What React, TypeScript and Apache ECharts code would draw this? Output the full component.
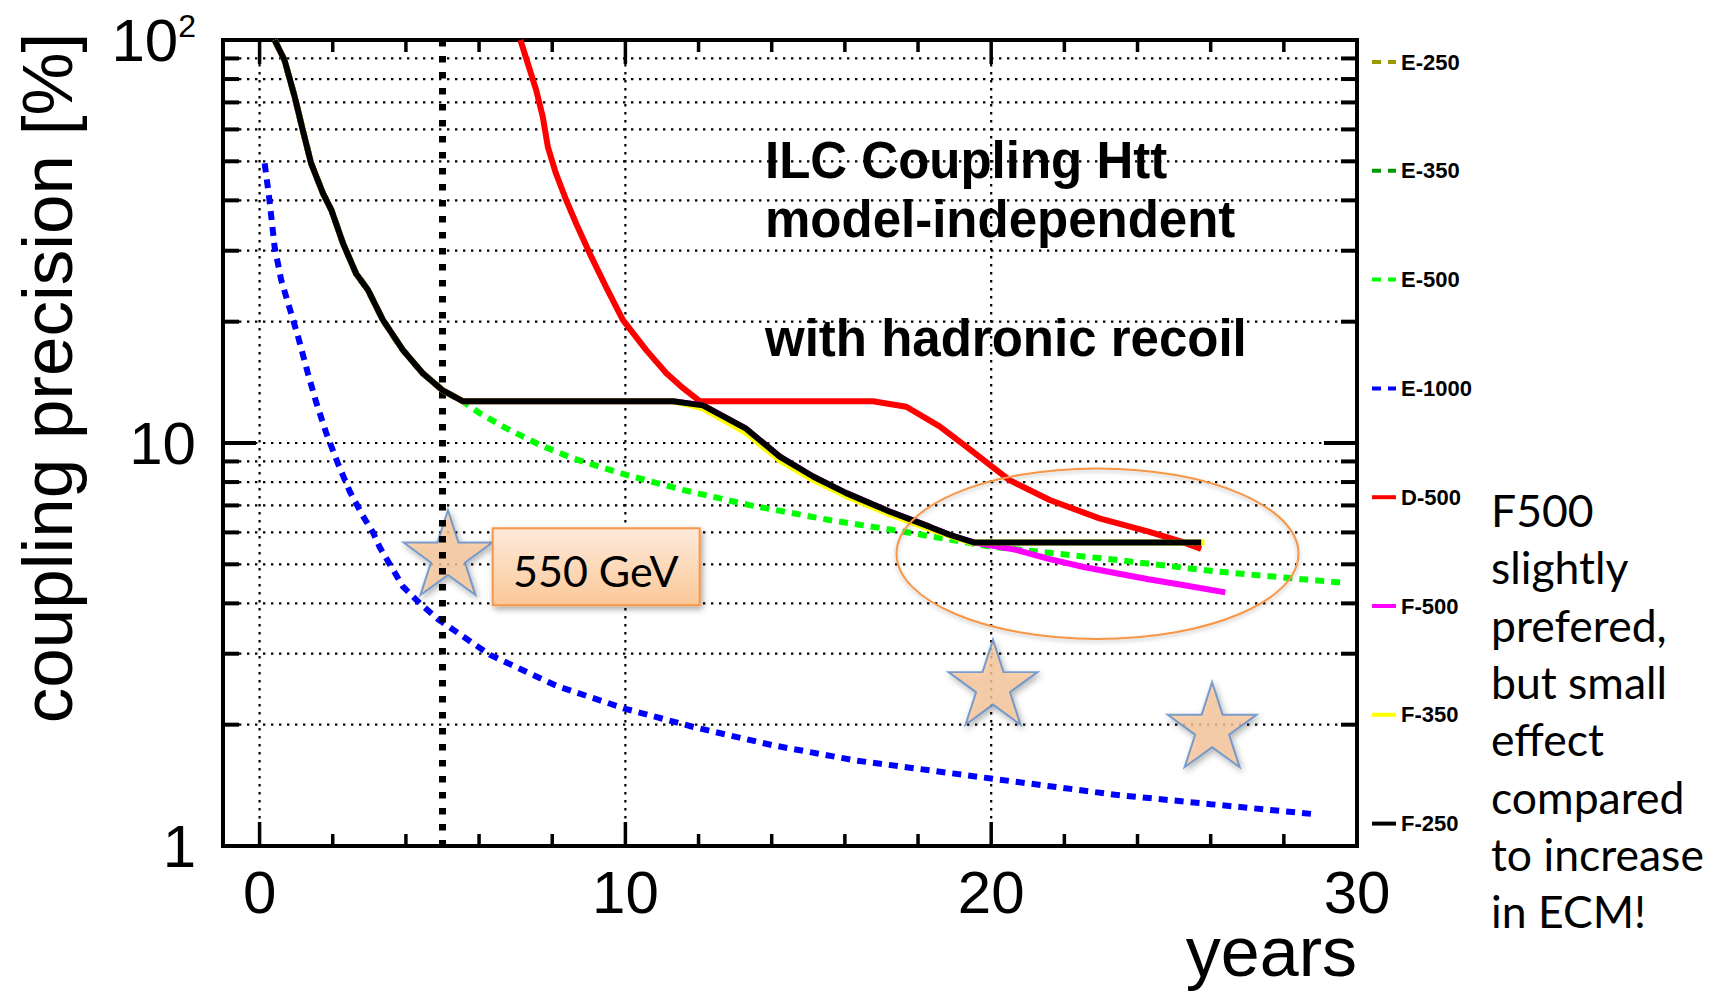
import React, { useEffect, useRef } from 'react';
import * as echarts from 'echarts';

// ---------- data (years, coupling precision %) ----------
const INITIAL_DESCENT: [number, number][] = [
  [0.41, 100], [0.68, 89.2], [0.96, 72.3], [1.18, 59.8], [1.41, 49.4], [1.73, 41.7],
  [1.96, 37.9], [2.28, 31.3], [2.64, 26.3], [2.96, 24.0], [3.37, 20.2], [3.92, 17.0],
  [4.46, 14.9], [5.01, 13.5], [5.55, 12.7],
];
const E500_TAIL: [number, number][] = [
  [6.02, 11.85], [6.75, 10.87], [7.66, 9.89], [8.57, 9.16], [10.03, 8.33], [11.57, 7.65],
  [13.4, 7.01], [15.58, 6.44], [17.58, 6.03], [20.0, 5.53], [23.4, 5.13], [26.15, 4.8], [29.6, 4.5],
];
const E1000: [number, number][] = [
  [0.14, 49.4], [0.27, 40.1], [0.41, 30.7], [0.59, 25.4], [0.82, 21.6], [1.05, 18.4],
  [1.32, 14.9], [1.55, 12.6], [1.82, 10.6], [2.14, 8.9], [2.46, 7.6], [2.82, 6.6],
  [3.1, 6.0], [3.29, 5.5], [3.92, 4.4], [4.38, 4.0], [4.9, 3.64], [6.3, 2.98],
  [8.15, 2.49], [10.0, 2.19], [11.9, 1.97], [14.0, 1.78], [16.3, 1.63], [20.0, 1.47],
  [23.4, 1.34], [26.0, 1.27], [28.8, 1.2],
];
const D500: [number, number][] = [
  [7.13, 100], [7.56, 75.2], [7.74, 64.6], [7.88, 54.3], [8.1, 46.7], [8.38, 40.1],
  [8.65, 35.1], [9.02, 29.6], [9.47, 24.4], [9.93, 20.2], [10.57, 17.0], [11.12, 14.9],
  [11.57, 13.7], [12.03, 12.7], [16.77, 12.7], [17.68, 12.3], [18.59, 11.0], [19.32, 9.79],
  [20.5, 8.09], [21.6, 7.22], [22.96, 6.5], [24.3, 6.03], [25.2, 5.69], [25.74, 5.46],
];
const F_FLAT: [number, number][] = [[11.3, 12.7]];
const F250_TAIL: [number, number][] = [
  [12.12, 12.4], [13.3, 10.85], [14.22, 9.25], [15.13, 8.26], [16.04, 7.51], [17.22, 6.76],
  [18.31, 6.2], [18.86, 5.92], [19.54, 5.66], [25.74, 5.66],
];
const F350_TAIL: [number, number][] = [
  [12.1, 12.2], [13.3, 10.6], [14.22, 9.05], [15.13, 8.1], [16.04, 7.38], [17.22, 6.66],
  [18.31, 6.12], [19.45, 5.66], [25.83, 5.66],
];
const F500_TAIL: [number, number][] = [
  [12.12, 12.4], [13.3, 10.85], [14.22, 9.25], [15.13, 8.26], [16.04, 7.51], [17.22, 6.76],
  [18.31, 6.2], [18.86, 5.92], [19.54, 5.66], [20.68, 5.43], [21.6, 5.15], [22.5, 4.93],
  [23.42, 4.75], [24.3, 4.59], [25.2, 4.45], [26.4, 4.26],
];
const STAR_POINTS: [number, number][] = [[5.15, 5.35], [20.05, 2.55], [26.04, 2.0]];
const ECM_SWITCH: [number, number][] = [[5, 100], [5, 1]];

const LEGEND_NAMES = ['E-250', 'E-350', 'E-500', 'E-1000', 'D-500', 'F-500', 'F-350', 'F-250'];

// axis ticks
const X_MIN = -1;
const X_MAX = 30;
const Y_MIN = 1;
const Y_MAX = 100;
const X_LABELS = [0, 10, 20, 30];
const X_TICKS = [0, 2, 4, 6, 8, 10, 12, 14, 16, 18, 20, 22, 24, 26, 28];
const X_MAJOR = [0, 10, 20];
const Y_TICKS = [2, 3, 4, 5, 6, 7, 8, 9, 10, 20, 30, 40, 50, 60, 70, 80, 90];
const Y_MAJOR = [10];

const TITLE_LINES = ['ILC Coupling Htt', 'model-independent', '', 'with hadronic recoil'];
const NOTE_LINES = ['F500', 'slightly', 'prefered,', 'but small', 'effect', 'compared', 'to increase', 'in ECM!'];

const SANS = '"Liberation Sans", Arial, Helvetica, sans-serif';
const CALIBRI_LIKE = 'Lato, "Open Sans", sans-serif';

function starPath(): string {
  const pts: string[] = [];
  for (let i = 0; i < 10; i++) {
    const r = i % 2 === 0 ? 100 : 38.2;
    const a = -Math.PI / 2 + (i * Math.PI) / 5;
    pts.push(`${(r * Math.cos(a)).toFixed(2)},${(r * Math.sin(a)).toFixed(2)}`);
  }
  return 'path://M' + pts.join('L') + 'Z';
}

export default function App() {
  const ref = useRef<HTMLDivElement>(null);
  useEffect(() => {
    if (!ref.current) return;
    const chart = echarts.init(ref.current, null, { renderer: 'svg' });

    const dotted = (name: string, data: [number, number][], color: string) => ({
      type: 'line', name, data, symbol: 'none', showSymbol: false, z: 3, silent: true,
      lineStyle: { color, width: 6, type: [9, 7] }, itemStyle: { color },
    });
    const solid = (name: string, data: [number, number][], color: string, z: number) => ({
      type: 'line', name, data, symbol: 'none', showSymbol: false, z, silent: true,
      lineStyle: { color, width: 6 }, itemStyle: { color },
    });

    const gridDot = { stroke: '#000', lineWidth: 2.2, lineDash: [2.4, 5.6] };

    const yGrid = {
      type: 'custom', name: 'ygrid', silent: true, z: 1,
      data: Y_TICKS.map((v) => [X_MIN, v]),
      renderItem: (params: any, api: any) => {
        const v = api.value(1);
        const p = api.coord([X_MIN, v]);
        const cs = params.coordSys;
        const left = cs.x;
        const right = cs.x + cs.width;
        const len = Y_MAJOR.indexOf(v) >= 0 ? 33 : 16;
        return {
          type: 'group',
          children: [
            { type: 'line', shape: { x1: left, y1: p[1], x2: right, y2: p[1] }, style: gridDot },
            { type: 'line', shape: { x1: left, y1: p[1], x2: left + len, y2: p[1] }, style: { stroke: '#000', lineWidth: 4 } },
            { type: 'line', shape: { x1: right - len, y1: p[1], x2: right, y2: p[1] }, style: { stroke: '#000', lineWidth: 4 } },
          ],
        };
      },
    };
    const xGrid = {
      type: 'custom', name: 'xgrid', silent: true, z: 1,
      data: X_TICKS.map((v) => [v, Y_MIN]),
      renderItem: (params: any, api: any) => {
        const v = api.value(0);
        const p = api.coord([v, Y_MIN]);
        const cs = params.coordSys;
        const top = cs.y;
        const bottom = cs.y + cs.height;
        const major = X_MAJOR.indexOf(v) >= 0;
        const len = major ? 24 : 12;
        const children: any[] = [
          { type: 'line', shape: { x1: p[0], y1: bottom, x2: p[0], y2: bottom - len }, style: { stroke: '#000', lineWidth: 3.5 } },
          { type: 'line', shape: { x1: p[0], y1: top, x2: p[0], y2: top + len }, style: { stroke: '#000', lineWidth: 3.5 } },
        ];
        if (major) {
          children.unshift({ type: 'line', shape: { x1: p[0], y1: top, x2: p[0], y2: bottom }, style: gridDot });
        }
        return { type: 'group', children };
      },
    };

    const option: any = {
      animation: false,
      backgroundColor: '#fff',
      grid: { left: 223, top: 40, width: 1134, height: 806, show: true, borderColor: '#000', borderWidth: 4, backgroundColor: 'transparent' },
      xAxis: {
        type: 'value', min: X_MIN, max: X_MAX,
        axisLine: { show: false }, axisTick: { show: false }, splitLine: { show: false },
        axisLabel: { customValues: X_LABELS, fontSize: 60, fontFamily: SANS, color: '#000', margin: 16 },
      },
      yAxis: {
        type: 'log', logBase: 10, min: Y_MIN, max: Y_MAX,
        axisLine: { show: false }, axisTick: { show: false }, splitLine: { show: false }, minorTick: { show: false },
        axisLabel: {
          margin: 27, color: '#000',
          formatter: (v: number) => {
            const r = Math.round(v);
            return r === 100 ? '{b|10}{s|2}' : `{b|${r}}`;
          },
          rich: {
            b: { fontSize: 60, fontFamily: SANS, color: '#000' },
            s: { fontSize: 32, fontFamily: SANS, color: '#000', verticalAlign: 'top', lineHeight: 26 },
          },
        },
      },
      legend: {
        data: LEGEND_NAMES, orient: 'vertical', left: 1370, top: 51, padding: 0,
        itemWidth: 24, itemHeight: 10, itemGap: 86.8, selectedMode: false,
        itemStyle: { opacity: 0 }, lineStyle: { width: 4 },
        textStyle: { fontFamily: SANS, fontWeight: 'bold', fontSize: 22, color: '#000', lineHeight: 22 },
      },
      series: [
        yGrid,
        xGrid,
        dotted('E-250', INITIAL_DESCENT, '#999900'),
        dotted('E-350', INITIAL_DESCENT, '#009900'),
        dotted('E-500', [...INITIAL_DESCENT, ...E500_TAIL], '#00ff00'),
        dotted('E-1000', E1000, '#0000ff'),
        {
          type: 'scatter', name: 'stars', data: STAR_POINTS, symbol: starPath(), symbolSize: [89, 85], z: 4, silent: true,
          itemStyle: { color: '#f9c89c', borderColor: '#5b8bc9', borderWidth: 2, shadowBlur: 6, shadowColor: 'rgba(0,0,0,0.35)', shadowOffsetX: 2, shadowOffsetY: 3 },
        },
        {
          type: 'line', name: 'ecm', data: ECM_SWITCH, symbol: 'none', z: 5, silent: true,
          lineStyle: { color: '#000', width: 7, type: [6.5, 9.5] },
        },
        solid('D-500', D500, '#ff0000', 6),
        solid('F-500', [...INITIAL_DESCENT, ...F_FLAT, ...F500_TAIL], '#ff00ff', 7),
        solid('F-350', [...INITIAL_DESCENT, ...F_FLAT, ...F350_TAIL], '#ffff00', 8),
        solid('F-250', [...INITIAL_DESCENT, ...F_FLAT, ...F250_TAIL], '#000000', 9),
      ],
      graphic: [
        {
          type: 'text', x: 47, y: 378, rotation: Math.PI / 2, z: 10,
          style: { text: 'coupling precision [%]', fontSize: 71, fontFamily: SANS, fill: '#000', align: 'center', verticalAlign: 'middle', textAlign: 'center', textVerticalAlign: 'middle' },
        },
        {
          type: 'text', x: 1357, y: 952, z: 10,
          style: { text: 'years', fontSize: 70, fontFamily: SANS, fill: '#000', align: 'right', verticalAlign: 'middle', textAlign: 'right', textVerticalAlign: 'middle' },
        },
        {
          type: 'text', x: 765, y: 131, z: 10,
          style: { text: TITLE_LINES.join('\n'), fontSize: 51, fontWeight: 'bold', fontFamily: SANS, fill: '#000', lineHeight: 59.3, align: 'left', verticalAlign: 'top', textAlign: 'left', textVerticalAlign: 'top' },
        },
        {
          type: 'text', x: 1491, y: 481, z: 10,
          style: { text: NOTE_LINES.join('\n'), fontSize: 44.5, fontFamily: CALIBRI_LIKE, fill: '#000', lineHeight: 57.3, align: 'left', verticalAlign: 'top', textAlign: 'left', textVerticalAlign: 'top' },
        },
        {
          type: 'ellipse', z: 10, silent: true,
          shape: { cx: 1097.5, cy: 553.7, rx: 201, ry: 85.3 },
          style: { fill: 'none', stroke: '#f79646', lineWidth: 2, shadowBlur: 4, shadowColor: 'rgba(0,0,0,0.25)', shadowOffsetY: 2 },
        },
        {
          type: 'rect', z: 10, silent: true,
          shape: { x: 492.7, y: 528.3, width: 207, height: 77 },
          style: {
            fill: new echarts.graphic.LinearGradient(0, 0, 0, 1, [
              { offset: 0, color: '#fdeadb' },
              { offset: 1, color: '#fbc898' },
            ]),
            stroke: '#f79646', lineWidth: 2,
            shadowBlur: 6, shadowColor: 'rgba(0,0,0,0.35)', shadowOffsetX: 2, shadowOffsetY: 3,
          },
        },
        {
          type: 'text', x: 513, y: 570, z: 11,
          style: { text: '550 GeV', fontSize: 43, fontFamily: CALIBRI_LIKE, fill: '#000', align: 'left', verticalAlign: 'middle', textAlign: 'left', textVerticalAlign: 'middle' },
        },
      ],
    };
    chart.setOption(option);
    return () => chart.dispose();
  }, []);
  return <div ref={ref} style={{ position: 'absolute', left: 0, top: 0, width: 1729, height: 994 }} />;
}
